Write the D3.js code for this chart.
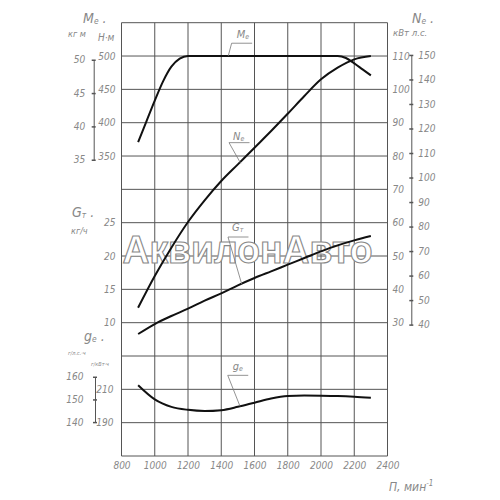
<!DOCTYPE html>
<html>
<head>
<meta charset="utf-8">
<script src="https://cdnjs.cloudflare.com/ajax/libs/d3/7.8.5/d3.min.js"></script>
<style>
  body { margin: 0; background: #fff; }
  svg text { font-family: "Liberation Sans Narrow", "DejaVu Sans Condensed", "Liberation Sans", sans-serif; font-style: italic; fill: #888; }
</style>
</head>
<body>
<div id="chart"></div>
<script>
// engine characteristic: torque, power, fuel flow, specific consumption vs rpm
const rpmTicks = [800, 1000, 1200, 1400, 1600, 1800, 2000, 2200, 2400];

const meRpm = [900, 950, 1000, 1050, 1100, 1150, 1200, 1400, 1600, 1800, 2000, 2100, 2150, 2200, 2250, 2300];
const meVals = [371, 402, 433, 462, 484, 496, 500, 500, 500, 500, 500, 500, 497, 489, 480, 471]; // N·m

const rpm = [900, 1000, 1100, 1200, 1300, 1400, 1500, 1600, 1700, 1800, 1900, 2000, 2100, 2200, 2300];
const neVals = [34.5, 44, 52.5, 60.2, 66.7, 72.5, 77.5, 82.5, 87.5, 92.7, 98, 103, 106.5, 109, 110]; // kW
const gtVals = [8.3, 9.8, 11.0, 12.1, 13.3, 14.4, 15.6, 16.7, 17.7, 18.7, 19.7, 20.7, 21.6, 22.35, 23.0]; // kg/h
const geVals = [212.5, 204, 199.5, 197.7, 197, 197.5, 199.5, 202, 204.5, 206, 206.3, 206.2, 206, 205.6, 205]; // g/kW·h

const meTicks = [350, 400, 450, 500];
const meKgfTicks = [35, 40, 45, 50];
const neTicks = [30, 40, 50, 60, 70, 80, 90, 100, 110];
const neHpTicks = [40, 50, 60, 70, 80, 90, 100, 110, 120, 130, 140, 150];
const gtTicks = [10, 15, 20, 25];
const geTicks = [190, 210];
const geHpTicks = [140, 150, 160];

const svg = d3.select("#chart").append("svg")
  .attr("width", 500).attr("height", 500);

// plot frame: 8 columns x 13 rows
const pLeft = 121.5, pRight = 387.5, pTop = 22.7, pBottom = 456;
const x = d3.scaleLinear().domain([800, 2400]).range([pLeft, pRight]);
const row = d3.scaleLinear().domain([0, 13]).range([pTop, pBottom]);
const yMe = d3.scaleLinear().domain([550, -100]).range([pTop, pBottom]);
const yNe = d3.scaleLinear().domain([120, -10]).range([pTop, pBottom]);
const yGt = d3.scaleLinear().domain([55, -10]).range([pTop, pBottom]);
const yGe = d3.scaleLinear().domain([430, 170]).range([pTop, pBottom]);
const yKgf = d3.scaleLinear().domain([35, 50]).range([yMe(350) + 3.7, yMe(500) + 3.7]);
const yHp = d3.scaleLinear().domain([40, 150]).range([yNe(40 * 0.7355), yNe(150 * 0.7355)]);
const yGeHp = d3.scaleLinear().domain([140, 160]).range([yGe(140 / 0.7355), yGe(160 / 0.7355)]);

// grid
const grid = svg.append("g").attr("stroke", "#555").attr("stroke-width", 1);
grid.selectAll("line.v").data(rpmTicks).join("line").attr("class", "v")
  .attr("x1", d => x(d)).attr("x2", d => x(d))
  .attr("y1", pTop).attr("y2", pBottom);
grid.selectAll("line.h").data(d3.range(0, 14)).join("line").attr("class", "h")
  .attr("x1", pLeft).attr("x2", pRight)
  .attr("y1", d => row(d)).attr("y2", d => row(d));

// watermark
svg.append("text")
  .attr("x", pLeft + 1).attr("y", 263)
  .attr("textLength", 250).attr("lengthAdjust", "spacingAndGlyphs")
  .style("font-family", "Liberation Sans, Arial, sans-serif")
  .style("font-style", "normal").style("font-weight", "bold")
  .style("font-size", "38px")
  .style("fill", "#fff").style("stroke", "#888").style("stroke-width", 1.1)
  .text("АквилонАвто");

// axes helper
const styleAxis = (g, size) => {
  g.selectAll("text").style("font-size", size + "px").style("fill", "#888");
  g.selectAll("path, line").attr("stroke", "#555");
};

svg.append("g").attr("transform", `translate(0,${pBottom})`)
  .call(d3.axisBottom(x).tickValues(rpmTicks).tickSize(0).tickPadding(6).tickFormat(d3.format("d")))
  .call(g => g.select(".domain").remove())
  .call(g => styleAxis(g, 10));

svg.append("g").attr("transform", `translate(${pLeft},0)`)
  .call(d3.axisLeft(yMe).tickValues(meTicks).tickSize(0).tickPadding(6))
  .call(g => g.select(".domain").remove())
  .call(g => styleAxis(g, 10));

svg.append("g").attr("transform", `translate(${pLeft},0)`)
  .call(d3.axisLeft(yGt).tickValues(gtTicks).tickSize(0).tickPadding(6))
  .call(g => g.select(".domain").remove())
  .call(g => styleAxis(g, 10));

svg.append("g").attr("transform", `translate(${pLeft},0)`)
  .call(d3.axisLeft(yGe).tickValues(geTicks).tickSize(0).tickPadding(8))
  .call(g => g.select(".domain").remove())
  .call(g => styleAxis(g, 10));

svg.append("g").attr("transform", `translate(${pRight},0)`)
  .call(d3.axisRight(yNe).tickValues(neTicks).tickSize(0).tickPadding(5))
  .call(g => g.select(".domain").remove())
  .call(g => styleAxis(g, 10));

// secondary unit scales
svg.append("g").attr("transform", "translate(93.7,0)")
  .call(d3.axisLeft(yKgf).tickValues(meKgfTicks).tickSize(3).tickSizeOuter(0).tickPadding(5.5))
  .call(g => g.selectAll(".tick line").attr("x1", 2).attr("x2", -2).attr("stroke-width", 1.5))
  .call(g => styleAxis(g, 10));

svg.append("g").attr("transform", "translate(411.3,0)")
  .call(d3.axisRight(yHp).tickValues(neHpTicks).tickSize(3).tickSizeOuter(0).tickPadding(4))
  .call(g => g.selectAll(".tick line").attr("x1", -2).attr("x2", 2).attr("stroke-width", 1.5))
  .call(g => styleAxis(g, 10));

svg.append("g").attr("transform", "translate(95,0)")
  .call(d3.axisLeft(yGeHp).tickValues(geHpTicks).tickSize(3).tickSizeOuter(0).tickPadding(8.5))
  .call(g => g.selectAll(".tick line").attr("x1", 2).attr("x2", -2).attr("stroke-width", 1.5))
  .call(g => styleAxis(g, 10));

// curves
const drawCurve = (xs, ys, yScale) => {
  const line = d3.line().x(d => x(d[0])).y(d => yScale(d[1])).curve(d3.curveMonotoneX);
  svg.append("path").datum(xs.map((v, i) => [v, ys[i]]))
    .attr("d", line).attr("fill", "none")
    .attr("stroke", "#111").attr("stroke-width", 2);
};
drawCurve(meRpm, meVals, yMe);
drawCurve(rpm, neVals, yNe);
drawCurve(rpm, gtVals, yGt);
drawCurve(rpm, geVals, yGe);

// curve labels with leader lines
const labels = [
  { name: "M", sub: "e", n: 1442, v: 500, s: yMe, dx: 3.4, dy: -12.8, tx: 5, ty: -5 },
  { name: "N", sub: "e", n: 1517, v: 77.8, s: yNe, dx: -11.7, dy: -20.7, tx: 4, ty: -2.5 },
  { name: "G", sub: "т", n: 1523, v: 15.8, s: yGt, dx: -13.7, dy: -47, tx: 4, ty: -6 },
  { name: "g", sub: "e", n: 1513, v: 199.8, s: yGe, dx: -12.3, dy: -31, tx: 5, ty: -5 }
];
labels.forEach(l => {
  const px = x(l.n), py = l.s(l.v);
  const ax = px + l.dx, ay = py + l.dy;
  svg.append("polyline")
    .attr("points", `${px},${py} ${ax},${ay} ${ax + 20.5},${ay}`)
    .attr("fill", "none").attr("stroke", "#777").attr("stroke-width", 0.8);
  const t = svg.append("text").attr("x", ax + l.tx).attr("y", ay + l.ty)
    .style("font-size", "11px");
  t.append("tspan").text(l.name);
  t.append("tspan").attr("font-size", "7px").attr("dy", 1).text(l.sub);
});

// axis titles
const title = (xPos, yPos, main, sub, size) => {
  const t = svg.append("text").attr("x", xPos).attr("y", yPos).style("font-size", size + "px");
  t.append("tspan").text(main);
  if (sub) t.append("tspan").attr("font-size", (size * 0.6) + "px").attr("dy", 1).text(sub);
  t.append("tspan").attr("dy", sub ? -1 : 0).text(" .");
  return t;
};
title(83, 23, "M", "e", 14);
title(412, 23, "N", "e", 14);
title(72, 217, "G", "т", 14);
title(84, 341, "g", "e", 14);

const unit = (xPos, yPos, txt, size) =>
  svg.append("text").attr("x", xPos).attr("y", yPos).style("font-size", size + "px").text(txt);
unit(68, 37, "кг  м", 9);
unit(98, 41, "Н·м", 10);
unit(393, 36, "кВт л.с.", 9.5);
unit(71, 234, "кг/ч", 9);
unit(68, 355, "г/л.с.·ч", 5.5);
unit(91, 366, "г/кВт·ч", 5.5);

const nt = svg.append("text").attr("x", 389).attr("y", 491).style("font-size", "12px");
nt.append("tspan").text("П, мин");
nt.append("tspan").attr("font-size", "8px").attr("dy", -5).text("-1");
</script>
</body>
</html>
